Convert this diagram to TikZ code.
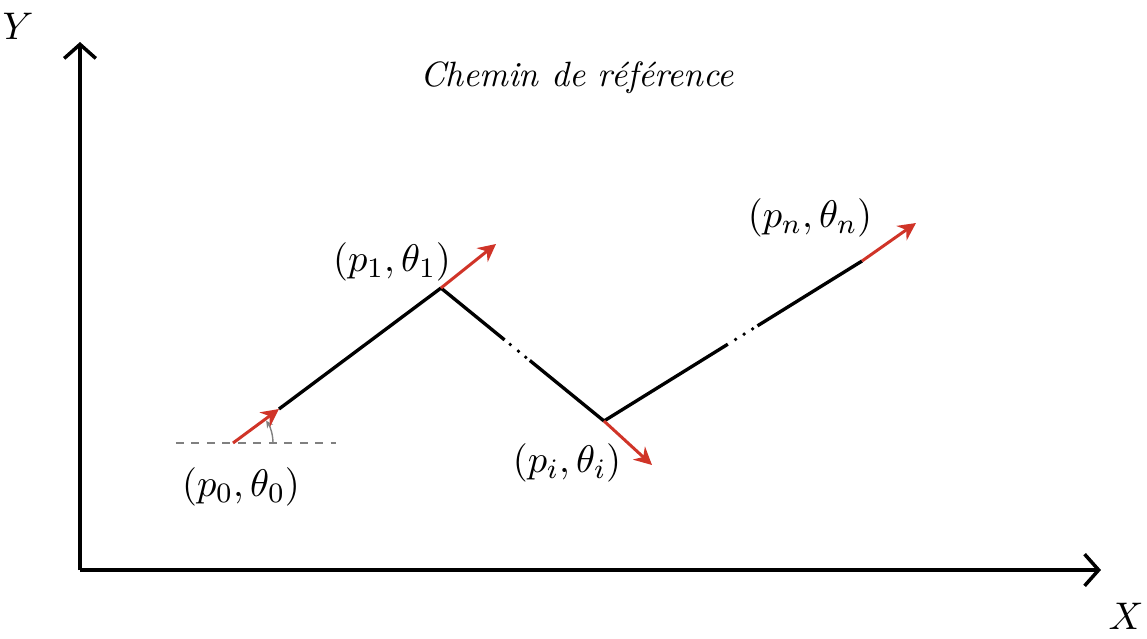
\documentclass[tikz,border=0pt]{standalone}
\usepackage{amsmath,amssymb}
\usepackage{tikz}
\usetikzlibrary{calc,arrows.meta}

\definecolor{orientred}{RGB}{208,52,40}
\tikzset{
  axis/.style={line width=1pt,-{Straight Barb[length=4pt,width=9pt,line width=1pt]}},
  segline/.style={line width=0.95pt},
  gapdot/.style={fill=black},
  orient/.style={orientred,line width=0.85pt,-{Stealth[length=5pt,width=5pt]}},
  refline/.style={gray,line width=0.4pt,dash pattern=on 2.2pt off 2.2pt},
  lbl/.style={font=\fontsize{11}{13}\selectfont}
}

\begin{document}
\begin{tikzpicture}[x=0.01cm,y=-0.01cm]
\useasboundingbox (0,0) rectangle (1147,638);

% axes
\coordinate (o) at (80,570);
\coordinate (ytip) at (80,42);
\coordinate (xtip) at (1101,570);
\draw[axis] (o) -- (ytip);
\draw[axis] (o) -- (xtip);
\node[lbl] (ylab) at (18,26) {$Y$};
\node[lbl] (xlab) at (1126,616) {$X$};

% title
\node[font=\fontsize{10}{12}\selectfont] (title) at (577,78) {\textit{Chemin de r\'ef\'erence}};

% points of the path
\coordinate (p0) at (233,443);
\coordinate (p1) at (441,288);
\coordinate (pi) at (604,421);
\coordinate (pn) at (862,261);

% tips of the orientations
\coordinate (t0) at (279,409);
\coordinate (t1) at (496,244);
\coordinate (ti) at (652,465);
\coordinate (tn) at (916,223);

% horizontal reference and angle at p0
\coordinate (h0) at (176,443);
\coordinate (h1) at (336,443);
\draw[refline] (h0) -- (h1);
\draw[gray,line width=0.4pt,-{Stealth[length=2pt,width=2pt]}] ($(p0)+(40,0)$) arc[start angle=0,end angle=-34,radius=40];

% segments, broken by three dots
\draw[segline] (t0) -- (p1);
\draw[segline] (p1) -- ($(p1)!0.39!(pi)$);
\draw[segline] ($(p1)!0.545!(pi)$) -- (pi);
\foreach \t in {0.425,0.475,0.52}
  \fill[gapdot] ($(p1)!\t!(pi)$) circle[radius=1.9];
\draw[segline] (pi) -- ($(pi)!0.48!(pn)$);
\draw[segline] ($(pi)!0.595!(pn)$) -- (pn);
\foreach \t in {0.51,0.543,0.576}
  \fill[gapdot] ($(pi)!\t!(pn)$) circle[radius=1.9];

% orientations
\foreach \s/\e in {p0/t0,p1/t1,pi/ti,pn/tn}
  \draw[orient] (\s) -- (\e);

% labels of the poses
\foreach \n/\txt/\x/\y in {l0/{(p_0,\theta_0)}/241/487,l1/{(p_1,\theta_1)}/392/262,
                            li/{(p_i,\theta_i)}/567/463,ln/{(p_n,\theta_n)}/810/218}
  \node[lbl] (\n) at (\x,\y) {$\txt$};

\end{tikzpicture}
\end{document}
